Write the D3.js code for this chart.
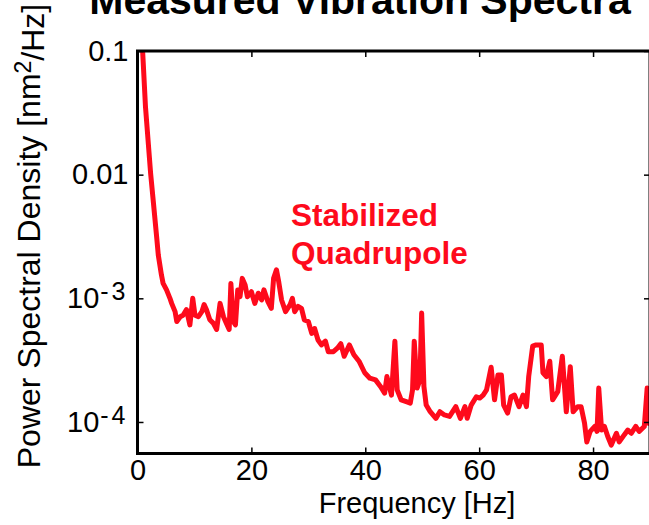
<!DOCTYPE html>
<html>
<head>
<meta charset="utf-8">
<script src="https://cdn.jsdelivr.net/npm/d3@7"></script>
<style>
  body { margin: 0; background: #fff; }
  svg { display: block; font-family: "Liberation Sans", Arial, sans-serif; }
</style>
</head>
<body>
<div class="container"></div>
<script>
// spectrum (Hz, nm^2/Hz)
var freq = [0.5, 0.9, 1.4, 2.3, 2.7, 3.4, 3.65, 4.2, 4.5, 5.1, 5.7, 6.0, 6.6, 6.9, 7.5, 8.0, 8.6, 9.2, 9.7, 10.1,
  10.7, 11.3, 11.7, 12.1, 12.7, 13.3, 13.9, 14.5, 15.1, 15.6, 16.1, 16.4, 16.8, 17.2, 17.6, 18.0, 18.4, 18.9, 19.3, 20.0,
  20.6, 21.2, 21.8, 22.2, 22.9, 23.5, 23.9, 24.4, 24.8, 25.3, 26.0, 26.8, 27.2, 27.6, 28.2, 28.8, 29.3, 30.0, 30.6, 31.1,
  31.7, 32.3, 33.0, 33.5, 34.4, 35.1, 35.7, 36.3, 37.2, 38.0, 38.9,
  39.9, 40.8, 41.8, 42.7, 43.4, 43.8, 44.6, 45.2, 45.6, 46.3, 47.2, 47.9, 48.3, 48.6, 49.1, 49.6, 49.9, 50.3, 50.7, 51.4,
  52.4, 53.1, 53.9, 54.8, 55.9, 56.7, 57.5, 57.9, 58.6, 59.5, 60.1, 60.7, 61.3, 62.1, 62.7, 63.3, 63.9, 64.3, 65.0, 65.6,
  66.2, 67.0, 67.7, 68.3, 68.7, 69.4, 70.0, 70.9, 71.2, 71.8, 72.4, 72.9, 73.8, 74.6, 75.3, 76.0, 76.5, 77.3, 77.9, 78.5,
  78.9, 79.5, 80.3, 80.7, 81.0, 81.5, 82.0, 82.6, 83.2, 84.1, 84.6, 85.5, 86.1, 86.7, 87.5, 88.1, 89.0, 89.5, 89.7, 90.5];
var psd = [0.2, 0.1, 0.0355, 0.0103, 0.0066, 0.0030, 2.24e-3, 1.55e-3, 1.32e-3, 1.17e-3, 1.0e-3, 9.1e-4, 7.8e-4, 6.5e-4, 7.1e-4, 7.3e-4, 8.1e-4, 6.1e-4, 1.0e-3, 7.3e-4,
  7.1e-4, 7.8e-4, 8.9e-4, 8.1e-4, 6.7e-4, 6.3e-4, 5.6e-4, 9.1e-4, 7.1e-4, 6.3e-4, 5.6e-4, 1.32e-3, 6.5e-4, 6.1e-4, 1.17e-3, 1.03e-3, 1.45e-3, 1.28e-3, 1.03e-3, 1.13e-3,
  9.1e-4, 1.10e-3, 9.7e-4, 1.17e-3, 9.4e-4, 8.3e-4, 1.45e-3, 1.70e-3, 1.36e-3, 9.7e-4, 7.8e-4, 8.9e-4, 1.0e-3, 7.8e-4, 8.6e-4, 8.3e-4, 6.7e-4, 6.5e-4, 5.2e-4, 5.7e-4,
  4.6e-4, 4.2e-4, 4.5e-4, 3.7e-4, 3.7e-4, 3.95e-4, 4.3e-4, 3.4e-4, 4.2e-4, 3.5e-4, 3.1e-4,
  2.5e-4, 2.26e-4, 2.19e-4, 1.93e-4, 1.71e-4, 2.33e-4, 1.65e-4, 4.5e-4, 1.82e-4, 1.51e-4, 1.46e-4, 1.42e-4, 1.82e-4, 4.5e-4, 1.88e-4, 2.19e-4, 7.6e-4, 1.93e-4, 1.37e-4, 1.21e-4,
  1.07e-4, 1.21e-4, 1.14e-4, 1.11e-4, 1.33e-4, 1.07e-4, 1.33e-4, 1.07e-4, 1.37e-4, 1.60e-4, 1.56e-4, 1.65e-4, 1.82e-4, 2.77e-4, 1.51e-4, 2.40e-4, 2.40e-4, 1.37e-4, 1.18e-4, 1.60e-4,
  1.65e-4, 1.33e-4, 1.65e-4, 1.33e-4, 2.33e-4, 4.1e-4, 4.2e-4, 4.2e-4, 2.5e-4, 2.33e-4, 3.1e-4, 1.51e-4, 1.76e-4, 3.4e-4, 1.21e-4, 2.8e-4, 1.21e-4, 1.33e-4, 1.33e-4, 9.8e-5,
  6.9e-5, 8.4e-5, 9.2e-5, 8.4e-5, 1.88e-4, 8.6e-5, 9.2e-5, 7.6e-5, 6.5e-5, 8.1e-5, 6.9e-5, 7.9e-5, 8.6e-5, 8.1e-5, 9.2e-5, 8.4e-5, 9.2e-5, 1.88e-4, 9.8e-5, 9.5e-5];

var xTicks = [0, 20, 40, 60, 80];
var yTicks = [0.1, 0.01, 1e-3, 1e-4];
var yTickLabels = [["0.1"], ["0.01"], ["10", "-3"], ["10", "-4"]];

var red = "#fe0a1c";

var margin = {top: 51, right: -1, bottom: 71.5, left: 137.5},
    width = 649,
    height = 525;

var svg = d3.select(".container").append("svg")
    .attr("width", width)
    .attr("height", height);

var x = d3.scaleLinear()
    .domain([0, 90])
    .range([margin.left, width - margin.right]);

var y = d3.scaleLog()
    .domain([5.56e-5, 0.1])
    .range([height - margin.bottom, margin.top]);

svg.append("defs").append("clipPath")
    .attr("id", "plot")
  .append("rect")
    .attr("x", x(0))
    .attr("y", y(0.1))
    .attr("width", x(90) - x(0))
    .attr("height", y.range()[0] - y(0.1));

// the spectrum
var line = d3.line()
    .x((d, i) => x(freq[i]))
    .y(d => y(d));

svg.append("path")
    .datum(psd)
    .attr("clip-path", "url(#plot)")
    .attr("fill", "none")
    .attr("stroke", red)
    .attr("stroke-width", 5)
    .attr("stroke-linejoin", "round")
    .attr("d", line);

// axes, ticks pointing inwards
var tickStyle = g => g
    .call(g => g.select(".domain").remove())
    .call(g => g.selectAll("line").attr("stroke", "#000").attr("stroke-width", 1.5))
    .call(g => g.selectAll("text").attr("fill", "#000").style("font-size", "29px"));

svg.append("g")
    .attr("transform", `translate(0,${y.range()[0]})`)
    .call(d3.axisBottom(x).tickValues(xTicks).tickSizeInner(-6).tickSizeOuter(0).tickPadding(6))
    .call(tickStyle);

svg.append("g")
    .attr("transform", `translate(0,${margin.top})`)
    .call(d3.axisTop(x).tickValues(xTicks).tickSizeInner(-6).tickSizeOuter(0).tickFormat(""))
    .call(tickStyle);

var yAxis = svg.append("g")
    .attr("transform", `translate(${margin.left},0)`)
    .call(d3.axisLeft(y).tickValues(yTicks).tickSizeInner(-6).tickSizeOuter(0).tickPadding(9))
    .call(tickStyle);

yAxis.selectAll(".tick text")
    .text(null)
    .each(function(d, i) {
      var t = d3.select(this);
      t.append("tspan").text(yTickLabels[i][0]);
      if (yTickLabels[i][1]) {
        t.append("tspan")
            .attr("dx", 1)
            .attr("dy", -8)
            .style("font-size", "25px")
            .style("letter-spacing", "3px")
            .text(yTickLabels[i][1]);
      }
    });

svg.append("g")
    .attr("transform", `translate(${x(90)},0)`)
    .call(d3.axisRight(y).tickValues(yTicks).tickSizeInner(-6).tickSizeOuter(0).tickFormat(""))
    .call(tickStyle);

// frame
svg.append("rect")
    .attr("x", x(0))
    .attr("y", y(0.1))
    .attr("width", x(90) - x(0))
    .attr("height", y.range()[0] - y(0.1))
    .attr("fill", "none")
    .attr("stroke", "#000")
    .attr("stroke-width", 3);

// titles
svg.append("text")
    .attr("x", 360)
    .attr("y", 14)
    .attr("text-anchor", "middle")
    .style("font-size", "41px")
    .style("font-weight", "bold")
    .text("Measured Vibration Spectra");

svg.append("text")
    .attr("x", 417)
    .attr("y", 513)
    .attr("text-anchor", "middle")
    .style("font-size", "29px")
    .text("Frequency [Hz]");

var yLabel = svg.append("text")
    .attr("transform", "translate(40,236) rotate(-90)")
    .attr("text-anchor", "middle")
    .style("font-size", "32px");
yLabel.append("tspan").text("Power Spectral Density [nm");
yLabel.append("tspan").attr("dy", "-0.4em").style("font-size", "23px").text("2");
yLabel.append("tspan").attr("dy", "0.4em").text("/Hz]");

// annotation
var note = svg.append("text")
    .attr("fill", red)
    .style("font-size", "31.5px")
    .style("font-weight", "bold");
note.append("tspan").attr("x", 291).attr("y", 226).text("Stabilized");
note.append("tspan").attr("x", 291).attr("y", 264).text("Quadrupole");
</script>
</body>
</html>
